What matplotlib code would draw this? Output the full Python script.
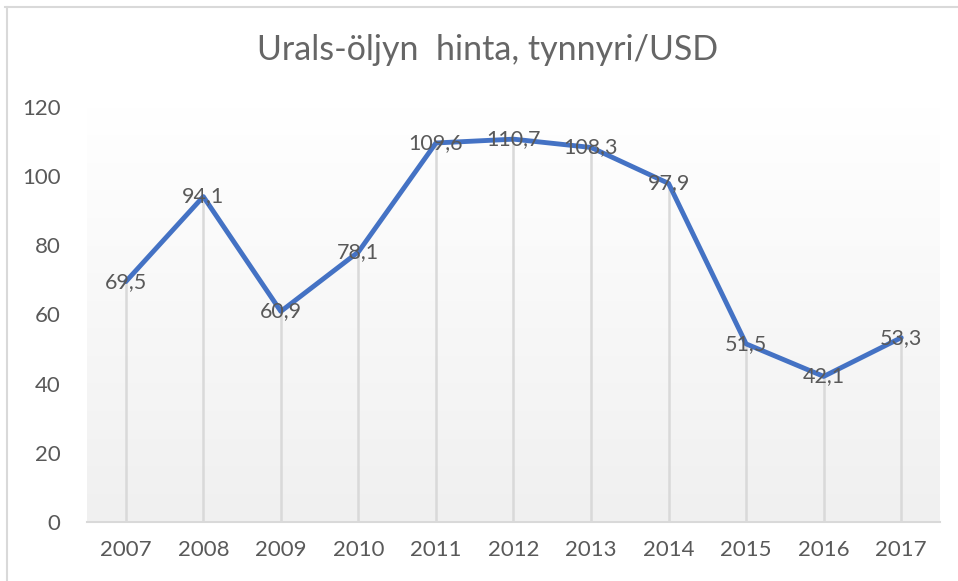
import matplotlib
matplotlib.use("Agg")
import matplotlib.pyplot as plt
import numpy as np
from matplotlib.lines import Line2D

years = ["2007", "2008", "2009", "2010", "2011", "2012", "2013", "2014", "2015", "2016", "2017"]
prices = [69.5, 94.1, 60.9, 78.1, 109.6, 110.7, 108.3, 97.9, 51.5, 42.1, 53.3]
yticks = [0, 20, 40, 60, 80, 100, 120]
title = "Urals-öljyn  hinta, tynnyri/USD"

plt.rcParams['font.family'] = ['Lato', 'DejaVu Sans']
txt = "#595959"

fig = plt.figure(figsize=(9.58, 5.81), dpi=100)
W, H = 958, 581
ax = fig.add_axes([87 / W, 1 - 522 / H, (940 - 87) / W, (522 - 107) / H])

x = np.arange(len(years))
ax.set_xlim(-0.5, len(years) - 0.5)
ax.set_ylim(0, 120)

# gradient background in plot area
grad = np.linspace(0, 1, 256).reshape(-1, 1)
top = np.array([1.0, 1.0, 1.0])
bot = np.array([0xF0, 0xF0, 0xF0]) / 255
img = top * (1 - grad)[..., None] + bot * grad[..., None]
ax.imshow(img, extent=[-0.5, len(years) - 0.5, 0, 120], aspect='auto', origin='upper', zorder=0)

# drop lines
ax.vlines(x, 0, prices, colors="#D9D9D9", linewidth=1.8, zorder=1)

ax.plot(x, prices, color="#4472C4", linewidth=3.5, solid_joinstyle='round', solid_capstyle='round', zorder=3)

for xi, v in zip(x, prices):
    ax.text(xi, v, f"{v:.1f}".replace(".", ","), ha='center', va='center',
            fontsize=15.5, color=txt, zorder=4)

for s in ['top', 'right', 'left']:
    ax.spines[s].set_visible(False)
ax.spines['bottom'].set_color("#D9D9D9")
ax.spines['bottom'].set_linewidth(1.5)

ax.set_xticks(x)
ax.set_xticklabels(years)
ax.set_yticks(yticks)
ax.tick_params(axis='both', length=0, labelsize=16, labelcolor=txt)
ax.tick_params(axis='x', pad=13)
ax.tick_params(axis='y', pad=19)

fig.text(488 / W, 1 - 50 / H, title, ha='center', va='center', fontsize=24.5,
         color="#666666", fontweight='normal')

# outer frame (top and left only visible)
fig.add_artist(Line2D([5 / W, 1], [1 - 7 / H, 1 - 7 / H], transform=fig.transFigure, color="#D9D9D9", linewidth=1.5))
fig.add_artist(Line2D([7 / W, 7 / W], [0, 1 - 7 / H], transform=fig.transFigure, color="#D9D9D9", linewidth=1.5))

fig.savefig("out.png", dpi=100)
